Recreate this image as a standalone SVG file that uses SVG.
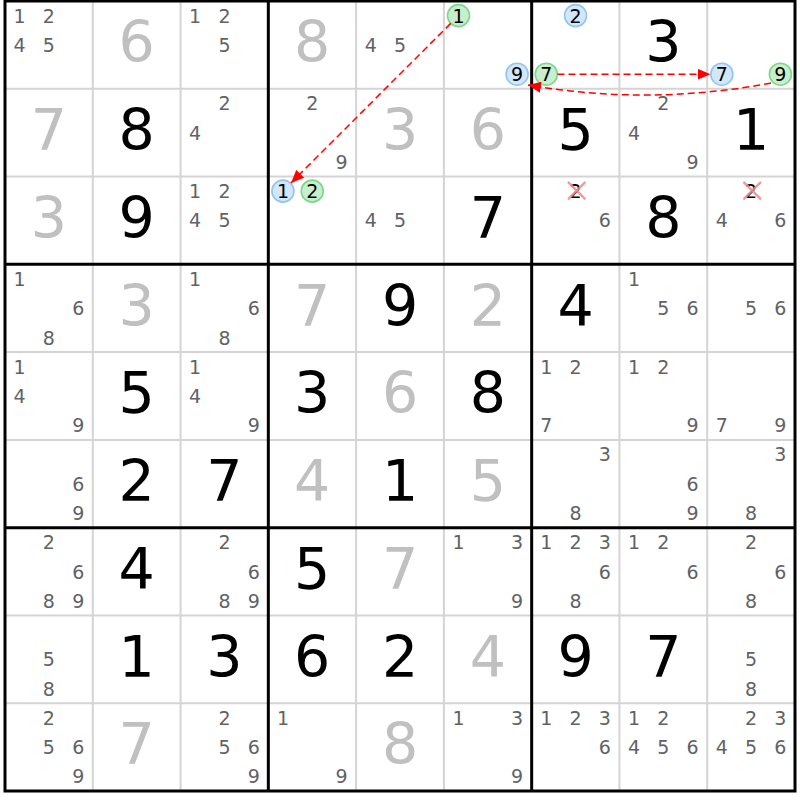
<svg xmlns="http://www.w3.org/2000/svg" width="800" height="800" viewBox="0 0 800 800">
<defs>
<style>
text{font-family:"DejaVu Sans","Verdana",sans-serif;text-anchor:middle}
.g{font-size:57px;fill:#000}
.s{font-size:57px;fill:#c0c0c0}
.c{font-size:19px;fill:#5f6266}
.k{font-size:19px;fill:#000}
.cb{fill:#d3e7fb;stroke:#93c5f3;stroke-width:1.6}
.cg{fill:#c8efcd;stroke:#7fd68c;stroke-width:1.6}
.x{stroke:#f08a8a;stroke-width:2.5;stroke-linecap:round;opacity:0.85}
.thin{stroke:#d4d4d4;stroke-width:2}
.thick{stroke:#000;stroke-width:3}
.arr{fill:none;stroke:#ff0000;stroke-width:1.5;stroke-dasharray:7,4}
</style>
<marker id="ah" markerUnits="userSpaceOnUse" markerWidth="13" markerHeight="11" refX="13" refY="5.5" orient="auto">
<path d="M0,0 L13,5.5 L0,11 z" fill="#ff0000"/>
</marker>
</defs>
<rect x="0" y="0" width="800" height="800" fill="#fff"/>
<g id="grid">
<g class="thin">
<line x1="92.78" y1="1" x2="92.78" y2="791"/><line x1="180.56" y1="1" x2="180.56" y2="791"/>
<line x1="356.11" y1="1" x2="356.11" y2="791"/><line x1="443.89" y1="1" x2="443.89" y2="791"/>
<line x1="619.44" y1="1" x2="619.44" y2="791"/><line x1="707.22" y1="1" x2="707.22" y2="791"/>
<line x1="5" y1="88.78" x2="795" y2="88.78"/><line x1="5" y1="176.56" x2="795" y2="176.56"/>
<line x1="5" y1="352.11" x2="795" y2="352.11"/><line x1="5" y1="439.89" x2="795" y2="439.89"/>
<line x1="5" y1="615.44" x2="795" y2="615.44"/><line x1="5" y1="703.22" x2="795" y2="703.22"/>
</g>
<g class="thick">
<line x1="268.33" y1="1" x2="268.33" y2="791"/><line x1="531.67" y1="1" x2="531.67" y2="791"/>
<line x1="5" y1="264.33" x2="795" y2="264.33"/><line x1="5" y1="527.67" x2="795" y2="527.67"/>
<rect x="5" y="1" width="790" height="790" fill="none"/>
</g>
</g>
<!-- Row 1 -->
<g id="r1c1" transform="translate(5,1)"><text class="c" x="14.6" y="21.6">1</text><text class="c" x="43.9" y="21.6">2</text><text class="c" x="14.6" y="50.9">4</text><text class="c" x="43.9" y="50.9">5</text></g>
<g id="r1c2" transform="translate(92.78,1)"><text class="s" x="43.9" y="61.2">6</text></g>
<g id="r1c3" transform="translate(180.56,1)"><text class="c" x="14.6" y="21.6">1</text><text class="c" x="43.9" y="21.6">2</text><text class="c" x="43.9" y="50.9">5</text></g>
<g id="r1c4" transform="translate(268.33,1)"><text class="s" x="43.9" y="61.2">8</text></g>
<g id="r1c5" transform="translate(356.11,1)"><text class="c" x="14.6" y="50.9">4</text><text class="c" x="43.9" y="50.9">5</text></g>
<g id="r1c6" transform="translate(443.89,1)"><circle class="cg" cx="14.6" cy="14.6" r="11"/><text class="k" x="14.6" y="21.6">1</text><circle class="cb" cx="73.2" cy="73.2" r="11"/><text class="k" x="73.2" y="80.2">9</text></g>
<g id="r1c7" transform="translate(531.67,1)"><circle class="cb" cx="43.9" cy="14.6" r="11"/><text class="k" x="43.9" y="21.6">2</text><circle class="cg" cx="14.6" cy="73.2" r="11"/><text class="k" x="14.6" y="80.2">7</text></g>
<g id="r1c8" transform="translate(619.44,1)"><text class="g" x="43.9" y="61.2">3</text></g>
<g id="r1c9" transform="translate(707.22,1)"><circle class="cb" cx="14.6" cy="73.2" r="11"/><text class="k" x="14.6" y="80.2">7</text><circle class="cg" cx="73.2" cy="73.2" r="11"/><text class="k" x="73.2" y="80.2">9</text></g>
<!-- Row 2 -->
<g id="r2c1" transform="translate(5,88.78)"><text class="s" x="43.9" y="61.2">7</text></g>
<g id="r2c2" transform="translate(92.78,88.78)"><text class="g" x="43.9" y="61.2">8</text></g>
<g id="r2c3" transform="translate(180.56,88.78)"><text class="c" x="43.9" y="21.6">2</text><text class="c" x="14.6" y="50.9">4</text></g>
<g id="r2c4" transform="translate(268.33,88.78)"><text class="c" x="43.9" y="21.6">2</text><text class="c" x="73.2" y="80.2">9</text></g>
<g id="r2c5" transform="translate(356.11,88.78)"><text class="s" x="43.9" y="61.2">3</text></g>
<g id="r2c6" transform="translate(443.89,88.78)"><text class="s" x="43.9" y="61.2">6</text></g>
<g id="r2c7" transform="translate(531.67,88.78)"><text class="g" x="43.9" y="61.2">5</text></g>
<g id="r2c8" transform="translate(619.44,88.78)"><text class="c" x="43.9" y="21.6">2</text><text class="c" x="14.6" y="50.9">4</text><text class="c" x="73.2" y="80.2">9</text></g>
<g id="r2c9" transform="translate(707.22,88.78)"><text class="g" x="43.9" y="61.2">1</text></g>
<!-- Row 3 -->
<g id="r3c1" transform="translate(5,176.56)"><text class="s" x="43.9" y="61.2">3</text></g>
<g id="r3c2" transform="translate(92.78,176.56)"><text class="g" x="43.9" y="61.2">9</text></g>
<g id="r3c3" transform="translate(180.56,176.56)"><text class="c" x="14.6" y="21.6">1</text><text class="c" x="43.9" y="21.6">2</text><text class="c" x="14.6" y="50.9">4</text><text class="c" x="43.9" y="50.9">5</text></g>
<g id="r3c4" transform="translate(268.33,176.56)"><circle class="cb" cx="14.6" cy="14.6" r="11"/><text class="k" x="14.6" y="21.6">1</text><circle class="cg" cx="43.9" cy="14.6" r="11"/><text class="k" x="43.9" y="21.6">2</text></g>
<g id="r3c5" transform="translate(356.11,176.56)"><text class="c" x="14.6" y="50.9">4</text><text class="c" x="43.9" y="50.9">5</text></g>
<g id="r3c6" transform="translate(443.89,176.56)"><text class="g" x="43.9" y="61.2">7</text></g>
<g id="r3c7" transform="translate(531.67,176.56)"><text class="k" x="43.9" y="21.6">2</text><line class="x" x1="37" y1="6" x2="53" y2="22"/><line class="x" x1="53" y1="6" x2="37" y2="22"/><text class="c" x="73.2" y="50.9">6</text></g>
<g id="r3c8" transform="translate(619.44,176.56)"><text class="g" x="43.9" y="61.2">8</text></g>
<g id="r3c9" transform="translate(707.22,176.56)"><text class="k" x="43.9" y="21.6">2</text><line class="x" x1="37" y1="6" x2="53" y2="22"/><line class="x" x1="53" y1="6" x2="37" y2="22"/><text class="c" x="14.6" y="50.9">4</text><text class="c" x="73.2" y="50.9">6</text></g>
<!-- Row 4 -->
<g id="r4c1" transform="translate(5,264.33)"><text class="c" x="14.6" y="21.6">1</text><text class="c" x="73.2" y="50.9">6</text><text class="c" x="43.9" y="80.2">8</text></g>
<g id="r4c2" transform="translate(92.78,264.33)"><text class="s" x="43.9" y="61.2">3</text></g>
<g id="r4c3" transform="translate(180.56,264.33)"><text class="c" x="14.6" y="21.6">1</text><text class="c" x="73.2" y="50.9">6</text><text class="c" x="43.9" y="80.2">8</text></g>
<g id="r4c4" transform="translate(268.33,264.33)"><text class="s" x="43.9" y="61.2">7</text></g>
<g id="r4c5" transform="translate(356.11,264.33)"><text class="g" x="43.9" y="61.2">9</text></g>
<g id="r4c6" transform="translate(443.89,264.33)"><text class="s" x="43.9" y="61.2">2</text></g>
<g id="r4c7" transform="translate(531.67,264.33)"><text class="g" x="43.9" y="61.2">4</text></g>
<g id="r4c8" transform="translate(619.44,264.33)"><text class="c" x="14.6" y="21.6">1</text><text class="c" x="43.9" y="50.9">5</text><text class="c" x="73.2" y="50.9">6</text></g>
<g id="r4c9" transform="translate(707.22,264.33)"><text class="c" x="43.9" y="50.9">5</text><text class="c" x="73.2" y="50.9">6</text></g>
<!-- Row 5 -->
<g id="r5c1" transform="translate(5,352.11)"><text class="c" x="14.6" y="21.6">1</text><text class="c" x="14.6" y="50.9">4</text><text class="c" x="73.2" y="80.2">9</text></g>
<g id="r5c2" transform="translate(92.78,352.11)"><text class="g" x="43.9" y="61.2">5</text></g>
<g id="r5c3" transform="translate(180.56,352.11)"><text class="c" x="14.6" y="21.6">1</text><text class="c" x="14.6" y="50.9">4</text><text class="c" x="73.2" y="80.2">9</text></g>
<g id="r5c4" transform="translate(268.33,352.11)"><text class="g" x="43.9" y="61.2">3</text></g>
<g id="r5c5" transform="translate(356.11,352.11)"><text class="s" x="43.9" y="61.2">6</text></g>
<g id="r5c6" transform="translate(443.89,352.11)"><text class="g" x="43.9" y="61.2">8</text></g>
<g id="r5c7" transform="translate(531.67,352.11)"><text class="c" x="14.6" y="21.6">1</text><text class="c" x="43.9" y="21.6">2</text><text class="c" x="14.6" y="80.2">7</text></g>
<g id="r5c8" transform="translate(619.44,352.11)"><text class="c" x="14.6" y="21.6">1</text><text class="c" x="43.9" y="21.6">2</text><text class="c" x="73.2" y="80.2">9</text></g>
<g id="r5c9" transform="translate(707.22,352.11)"><text class="c" x="14.6" y="80.2">7</text><text class="c" x="73.2" y="80.2">9</text></g>
<!-- Row 6 -->
<g id="r6c1" transform="translate(5,439.89)"><text class="c" x="73.2" y="50.9">6</text><text class="c" x="73.2" y="80.2">9</text></g>
<g id="r6c2" transform="translate(92.78,439.89)"><text class="g" x="43.9" y="61.2">2</text></g>
<g id="r6c3" transform="translate(180.56,439.89)"><text class="g" x="43.9" y="61.2">7</text></g>
<g id="r6c4" transform="translate(268.33,439.89)"><text class="s" x="43.9" y="61.2">4</text></g>
<g id="r6c5" transform="translate(356.11,439.89)"><text class="g" x="43.9" y="61.2">1</text></g>
<g id="r6c6" transform="translate(443.89,439.89)"><text class="s" x="43.9" y="61.2">5</text></g>
<g id="r6c7" transform="translate(531.67,439.89)"><text class="c" x="73.2" y="21.6">3</text><text class="c" x="43.9" y="80.2">8</text></g>
<g id="r6c8" transform="translate(619.44,439.89)"><text class="c" x="73.2" y="50.9">6</text><text class="c" x="73.2" y="80.2">9</text></g>
<g id="r6c9" transform="translate(707.22,439.89)"><text class="c" x="73.2" y="21.6">3</text><text class="c" x="43.9" y="80.2">8</text></g>
<!-- Row 7 -->
<g id="r7c1" transform="translate(5,527.67)"><text class="c" x="43.9" y="21.6">2</text><text class="c" x="73.2" y="50.9">6</text><text class="c" x="43.9" y="80.2">8</text><text class="c" x="73.2" y="80.2">9</text></g>
<g id="r7c2" transform="translate(92.78,527.67)"><text class="g" x="43.9" y="61.2">4</text></g>
<g id="r7c3" transform="translate(180.56,527.67)"><text class="c" x="43.9" y="21.6">2</text><text class="c" x="73.2" y="50.9">6</text><text class="c" x="43.9" y="80.2">8</text><text class="c" x="73.2" y="80.2">9</text></g>
<g id="r7c4" transform="translate(268.33,527.67)"><text class="g" x="43.9" y="61.2">5</text></g>
<g id="r7c5" transform="translate(356.11,527.67)"><text class="s" x="43.9" y="61.2">7</text></g>
<g id="r7c6" transform="translate(443.89,527.67)"><text class="c" x="14.6" y="21.6">1</text><text class="c" x="73.2" y="21.6">3</text><text class="c" x="73.2" y="80.2">9</text></g>
<g id="r7c7" transform="translate(531.67,527.67)"><text class="c" x="14.6" y="21.6">1</text><text class="c" x="43.9" y="21.6">2</text><text class="c" x="73.2" y="21.6">3</text><text class="c" x="73.2" y="50.9">6</text><text class="c" x="43.9" y="80.2">8</text></g>
<g id="r7c8" transform="translate(619.44,527.67)"><text class="c" x="14.6" y="21.6">1</text><text class="c" x="43.9" y="21.6">2</text><text class="c" x="73.2" y="50.9">6</text></g>
<g id="r7c9" transform="translate(707.22,527.67)"><text class="c" x="43.9" y="21.6">2</text><text class="c" x="73.2" y="50.9">6</text><text class="c" x="43.9" y="80.2">8</text></g>
<!-- Row 8 -->
<g id="r8c1" transform="translate(5,615.44)"><text class="c" x="43.9" y="50.9">5</text><text class="c" x="43.9" y="80.2">8</text></g>
<g id="r8c2" transform="translate(92.78,615.44)"><text class="g" x="43.9" y="61.2">1</text></g>
<g id="r8c3" transform="translate(180.56,615.44)"><text class="g" x="43.9" y="61.2">3</text></g>
<g id="r8c4" transform="translate(268.33,615.44)"><text class="g" x="43.9" y="61.2">6</text></g>
<g id="r8c5" transform="translate(356.11,615.44)"><text class="g" x="43.9" y="61.2">2</text></g>
<g id="r8c6" transform="translate(443.89,615.44)"><text class="s" x="43.9" y="61.2">4</text></g>
<g id="r8c7" transform="translate(531.67,615.44)"><text class="g" x="43.9" y="61.2">9</text></g>
<g id="r8c8" transform="translate(619.44,615.44)"><text class="g" x="43.9" y="61.2">7</text></g>
<g id="r8c9" transform="translate(707.22,615.44)"><text class="c" x="43.9" y="50.9">5</text><text class="c" x="43.9" y="80.2">8</text></g>
<!-- Row 9 -->
<g id="r9c1" transform="translate(5,703.22)"><text class="c" x="43.9" y="21.6">2</text><text class="c" x="43.9" y="50.9">5</text><text class="c" x="73.2" y="50.9">6</text><text class="c" x="73.2" y="80.2">9</text></g>
<g id="r9c2" transform="translate(92.78,703.22)"><text class="s" x="43.9" y="61.2">7</text></g>
<g id="r9c3" transform="translate(180.56,703.22)"><text class="c" x="43.9" y="21.6">2</text><text class="c" x="43.9" y="50.9">5</text><text class="c" x="73.2" y="50.9">6</text><text class="c" x="73.2" y="80.2">9</text></g>
<g id="r9c4" transform="translate(268.33,703.22)"><text class="c" x="14.6" y="21.6">1</text><text class="c" x="73.2" y="80.2">9</text></g>
<g id="r9c5" transform="translate(356.11,703.22)"><text class="s" x="43.9" y="61.2">8</text></g>
<g id="r9c6" transform="translate(443.89,703.22)"><text class="c" x="14.6" y="21.6">1</text><text class="c" x="73.2" y="21.6">3</text><text class="c" x="73.2" y="80.2">9</text></g>
<g id="r9c7" transform="translate(531.67,703.22)"><text class="c" x="14.6" y="21.6">1</text><text class="c" x="43.9" y="21.6">2</text><text class="c" x="73.2" y="21.6">3</text><text class="c" x="73.2" y="50.9">6</text></g>
<g id="r9c8" transform="translate(619.44,703.22)"><text class="c" x="14.6" y="21.6">1</text><text class="c" x="43.9" y="21.6">2</text><text class="c" x="14.6" y="50.9">4</text><text class="c" x="43.9" y="50.9">5</text><text class="c" x="73.2" y="50.9">6</text></g>
<g id="r9c9" transform="translate(707.22,703.22)"><text class="c" x="43.9" y="21.6">2</text><text class="c" x="73.2" y="21.6">3</text><text class="c" x="14.6" y="50.9">4</text><text class="c" x="43.9" y="50.9">5</text><text class="c" x="73.2" y="50.9">6</text></g>
<g id="connectors">
<line class="arr" x1="450.7" y1="23.4" x2="291" y2="183" marker-end="url(#ah)"/>
<line class="arr" x1="557.5" y1="74.2" x2="710.5" y2="74.2" marker-end="url(#ah)"/>
<path class="arr" d="M771,83 Q650,106 528,85" marker-end="url(#ah)"/>
</g>
</svg>
